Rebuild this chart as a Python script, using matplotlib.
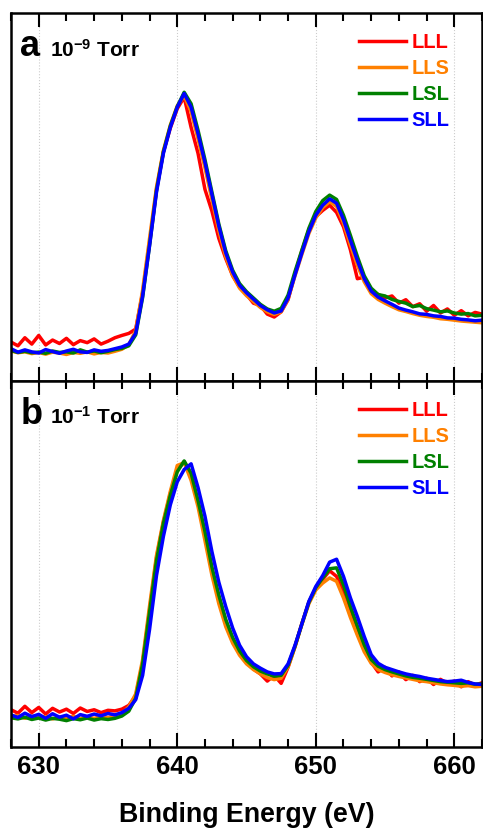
import numpy as np
import matplotlib
matplotlib.use("Agg")
import matplotlib.pyplot as plt
from matplotlib.ticker import MultipleLocator

plt.rcParams['font.family'] = ['Liberation Sans', 'DejaVu Sans']
plt.rcParams['font.weight'] = 'bold'
plt.rcParams['mathtext.fontset'] = 'custom'
plt.rcParams['mathtext.rm'] = 'Liberation Sans:bold'
plt.rcParams['mathtext.bf'] = 'Liberation Sans:bold'
plt.rcParams['mathtext.default'] = 'rm'

# Binding energy grid (eV), 0.5 eV steps
energy = np.arange(628.0, 662.25, 0.5)

samples = ['LLL', 'LLS', 'LSL', 'SLL']
colors = ['#FF0000', '#FF8000', '#008000', '#0000FF']
panel_tags = ['a', 'b']
pressures = ['10$^{-9}$ Torr', '10$^{-1}$ Torr']

# normalised intensity, 10^-9 Torr
lll_hv = [0.135, 0.122, 0.150, 0.128, 0.158, 0.125, 0.142, 0.130, 0.148, 0.126, 0.140, 0.133, 0.146, 0.128, 0.138, 0.150, 0.158,
          0.165, 0.180, 0.305, 0.480, 0.665, 0.795, 0.878, 0.945, 0.985,
          0.880, 0.790, 0.665, 0.590, 0.495, 0.425, 0.365, 0.326, 0.300,
          0.270, 0.262, 0.232, 0.222, 0.240, 0.282, 0.372, 0.452, 0.525,
          0.570, 0.592, 0.610, 0.585, 0.535, 0.455, 0.355, 0.360, 0.315,
          0.300, 0.288, 0.295, 0.270, 0.282, 0.258, 0.268, 0.242, 0.262,
          0.236, 0.250, 0.228, 0.244, 0.226, 0.238, 0.232]
lls_hv = [0.104, 0.098, 0.101, 0.095, 0.099, 0.093, 0.100, 0.097, 0.092, 0.099, 0.096, 0.101, 0.094, 0.099, 0.097, 0.103, 0.110,
          0.126, 0.175, 0.315, 0.495, 0.672, 0.800, 0.888, 0.955, 0.990,
          0.935, 0.840, 0.740, 0.630, 0.522, 0.432, 0.366, 0.322, 0.296,
          0.276, 0.255, 0.240, 0.231, 0.240, 0.285, 0.365, 0.440, 0.512,
          0.566, 0.602, 0.622, 0.606, 0.548, 0.472, 0.402, 0.344, 0.303,
          0.283, 0.270, 0.258, 0.247, 0.241, 0.234, 0.228, 0.224, 0.221,
          0.216, 0.214, 0.211, 0.208, 0.206, 0.204, 0.202]
lsl_hv = [0.106, 0.099, 0.103, 0.098, 0.100, 0.096, 0.104, 0.099, 0.101, 0.097, 0.108, 0.100, 0.104, 0.098, 0.103, 0.109, 0.113,
          0.122, 0.160, 0.290, 0.470, 0.660, 0.795, 0.885, 0.952, 1.002,
          0.962, 0.870, 0.768, 0.656, 0.545, 0.452, 0.384, 0.338, 0.310,
          0.288, 0.266, 0.250, 0.242, 0.252, 0.298, 0.380, 0.455, 0.530,
          0.588, 0.626, 0.645, 0.630, 0.575, 0.505, 0.432, 0.365, 0.322,
          0.300, 0.295, 0.283, 0.276, 0.270, 0.258, 0.262, 0.251, 0.246,
          0.240, 0.243, 0.236, 0.232, 0.234, 0.226, 0.228]
sll_hv = [0.112, 0.100, 0.108, 0.101, 0.097, 0.109, 0.102, 0.096, 0.104, 0.110, 0.101, 0.099, 0.108, 0.103, 0.106, 0.112, 0.118,
          0.128, 0.165, 0.295, 0.470, 0.655, 0.790, 0.880, 0.950, 0.998,
          0.950, 0.858, 0.758, 0.648, 0.538, 0.445, 0.378, 0.332, 0.306,
          0.284, 0.262, 0.247, 0.236, 0.243, 0.288, 0.368, 0.445, 0.518,
          0.575, 0.610, 0.632, 0.617, 0.560, 0.488, 0.418, 0.355, 0.312,
          0.291, 0.278, 0.266, 0.253, 0.246, 0.240, 0.233, 0.231, 0.226,
          0.224, 0.219, 0.218, 0.214, 0.212, 0.209, 0.211]

# normalised intensity, 10^-1 Torr
lll_mb = [0.130, 0.118, 0.142, 0.120, 0.138, 0.115, 0.135, 0.122, 0.132, 0.117, 0.136, 0.124, 0.130, 0.120, 0.128, 0.126, 0.132,
          0.145, 0.178, 0.295, 0.478, 0.660, 0.785, 0.885, 0.968, 0.995,
          0.950, 0.852, 0.740, 0.618, 0.522, 0.440, 0.372, 0.328, 0.296,
          0.272, 0.255, 0.230, 0.250, 0.222, 0.278, 0.350, 0.432, 0.505,
          0.550, 0.585, 0.615, 0.595, 0.540, 0.470, 0.405, 0.340, 0.296,
          0.262, 0.278, 0.248, 0.262, 0.235, 0.250, 0.228, 0.240, 0.218,
          0.236, 0.222, 0.230, 0.210, 0.228, 0.216, 0.224]
lls_mb = [0.105, 0.110, 0.100, 0.108, 0.102, 0.106, 0.098, 0.105, 0.101, 0.107, 0.099, 0.104, 0.100, 0.106, 0.103, 0.108, 0.115,
          0.140, 0.185, 0.305, 0.492, 0.668, 0.790, 0.892, 0.982, 0.992,
          0.930, 0.838, 0.720, 0.600, 0.500, 0.420, 0.362, 0.320, 0.290,
          0.270, 0.255, 0.242, 0.235, 0.240, 0.280, 0.350, 0.428, 0.500,
          0.548, 0.572, 0.590, 0.578, 0.520, 0.452, 0.390, 0.332, 0.292,
          0.270, 0.260, 0.252, 0.246, 0.241, 0.236, 0.231, 0.228, 0.224,
          0.220, 0.217, 0.215, 0.212, 0.214, 0.210, 0.212]
lsl_mb = [0.102, 0.098, 0.104, 0.096, 0.101, 0.094, 0.100, 0.097, 0.092, 0.099, 0.095, 0.101, 0.094, 0.099, 0.096, 0.100, 0.108,
          0.125, 0.170, 0.290, 0.470, 0.650, 0.780, 0.878, 0.960, 0.998,
          0.955, 0.860, 0.752, 0.628, 0.530, 0.445, 0.382, 0.335, 0.302,
          0.280, 0.265, 0.255, 0.247, 0.250, 0.285, 0.352, 0.430, 0.505,
          0.556, 0.590, 0.622, 0.625, 0.565, 0.490, 0.422, 0.356, 0.305,
          0.282, 0.270, 0.262, 0.255, 0.248, 0.243, 0.240, 0.236, 0.232,
          0.228, 0.226, 0.224, 0.222, 0.224, 0.219, 0.220]
sll_mb = [0.112, 0.103, 0.118, 0.106, 0.114, 0.100, 0.116, 0.104, 0.111, 0.098, 0.113, 0.107, 0.115, 0.109, 0.117, 0.112, 0.120,
          0.135, 0.165, 0.250, 0.410, 0.598, 0.735, 0.845, 0.925, 0.968,
          0.988, 0.905, 0.805, 0.682, 0.575, 0.490, 0.415, 0.355, 0.315,
          0.290, 0.275, 0.262, 0.255, 0.256, 0.290, 0.355, 0.430, 0.508,
          0.560, 0.598, 0.645, 0.655, 0.595, 0.520, 0.455, 0.385, 0.322,
          0.292, 0.278, 0.270, 0.262, 0.255, 0.250, 0.246, 0.240, 0.236,
          0.232, 0.228, 0.230, 0.233, 0.225, 0.220, 0.218]

spectra = [[lll_hv, lls_hv, lsl_hv, sll_hv],
           [lll_mb, lls_mb, lsl_mb, sll_mb]]

fig = plt.figure(figsize=(4.83, 8.30), dpi=100)
ax_a = fig.add_axes([0.0228, 0.5410, 0.9752, 0.4433])
ax_b = fig.add_axes([0.0228, 0.1000, 0.9752, 0.4410], sharex=ax_a)

for k, ax in enumerate([ax_a, ax_b]):
    for name, col, ys in zip(samples, colors, spectra[k]):
        ax.plot(energy, ys, color=col, lw=2.5, label=name)

    ax.set_xlim(628, 662)
    ax.set_ylim(0, 1.277)
    ax.xaxis.set_major_locator(MultipleLocator(10))
    ax.xaxis.set_minor_locator(MultipleLocator(2))
    ax.grid(axis='x', which='major', color='#cccccc', ls=':', lw=0.8)
    ax.set_yticks([])
    for s in ax.spines.values():
        s.set_linewidth(1.8)
    ax.tick_params(axis='x', which='both', direction='in', top=True, bottom=True,
                   width=1.5, labelsize=18.5, pad=6)
    ax.tick_params(axis='x', which='major', length=10)
    ax.tick_params(axis='x', which='minor', length=6)

    ax.text(0.020, 0.882, panel_tags[k], transform=ax.transAxes,
            fontsize=26, fontweight='bold', va='baseline')
    ax.text(0.082, 0.882, pressures[k], transform=ax.transAxes,
            fontsize=15, fontweight='bold', va='baseline')

    leg = ax.legend(loc='upper left', bbox_to_anchor=(0.739, 0.945), frameon=False,
                    prop={'weight': 'bold', 'size': 14.5}, handlelength=2.34,
                    handletextpad=0.25, labelspacing=0.35, borderpad=0, borderaxespad=0)
    for txt, col in zip(leg.get_texts(), colors):
        txt.set_color(col)

ax_a.tick_params(axis='x', labelbottom=False)
fig.text(0.510, 0.0096, 'Binding Energy (eV)', ha='center', va='baseline',
         fontsize=19.3, fontweight='bold')

fig.savefig('out.png', dpi=100)
